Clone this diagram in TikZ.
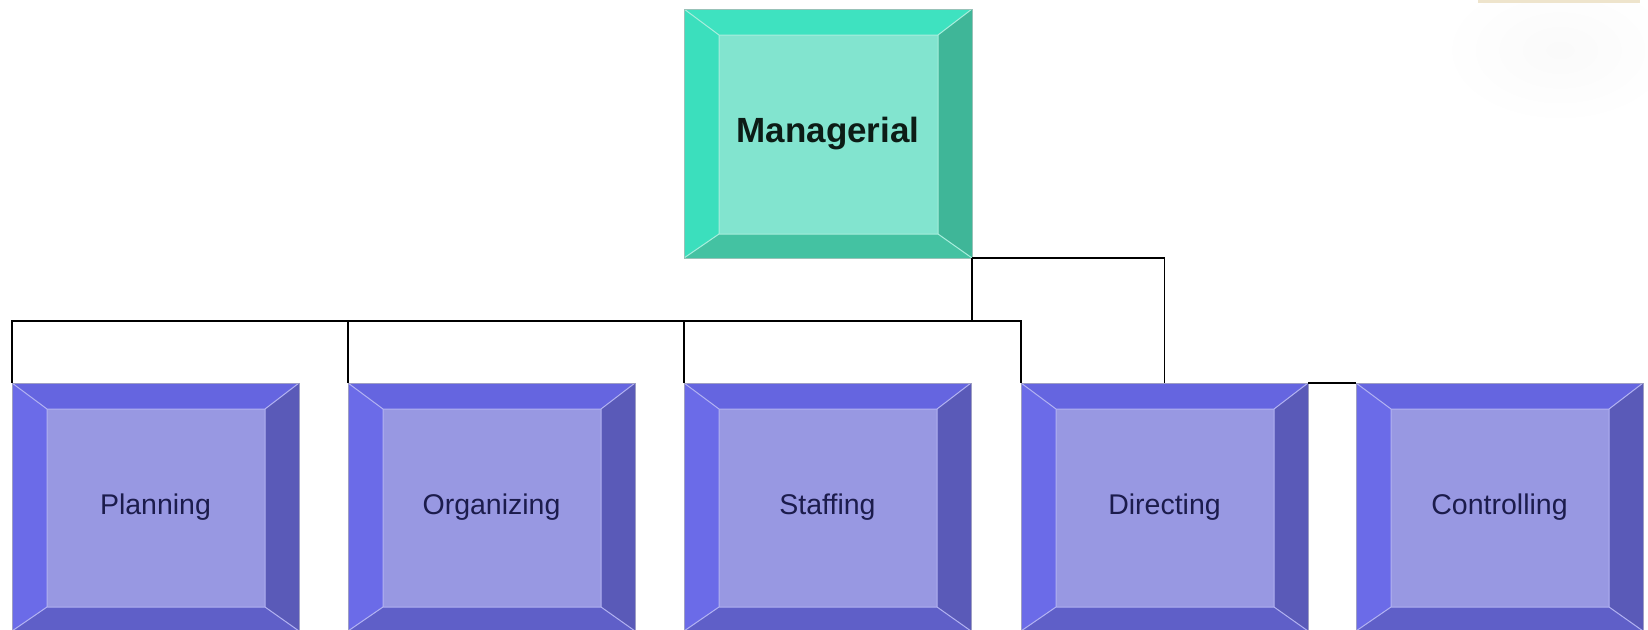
\documentclass[tikz,border=0pt]{standalone}
\usepackage{fontspec}
\setmainfont{Liberation Sans}
\usetikzlibrary{calc}

% palettes: T top, L left, R right, B bottom bevel, I inner face, E edge lines
\definecolor{mgrT}{HTML}{3EE2C0}
\definecolor{mgrL}{HTML}{3BDFBD}
\definecolor{mgrR}{HTML}{3FB698}
\definecolor{mgrB}{HTML}{44C2A2}
\definecolor{mgrI}{HTML}{82E4CF}
\definecolor{mgrE}{HTML}{A8EEDD}
\definecolor{funT}{HTML}{6565E0}
\definecolor{funL}{HTML}{6B6BE8}
\definecolor{funR}{HTML}{5A5AB8}
\definecolor{funB}{HTML}{5F5FC8}
\definecolor{funI}{HTML}{9898E2}
\definecolor{funE}{HTML}{B2B2F2}
\definecolor{navytext}{HTML}{1C1C4C}
\definecolor{darktext}{HTML}{0C1C16}
\definecolor{sand}{HTML}{EEE4CC}

\tikzset{
  bevelbox/.style={
    rectangle, draw=#1E!60!gray, line width=0.8pt, inner sep=0pt, outer sep=0pt,
    path picture={
      \coordinate (pa) at (path picture bounding box.north west);
      \coordinate (pc) at (path picture bounding box.south east);
      \coordinate (pb) at (pc |- pa);
      \coordinate (pd) at (pa |- pc);
      \coordinate (qa) at ($(pa)+(35,26)$);
      \coordinate (qb) at ($(pb)+(-34,26)$);
      \coordinate (qc) at ($(pc)+(-34,-24)$);
      \coordinate (qd) at ($(pd)+(35,-24)$);
      \fill[#1T] (pa) -- (pb) -- (qb) -- (qa) -- cycle;
      \fill[#1R] (pb) -- (pc) -- (qc) -- (qb) -- cycle;
      \fill[#1B] (pc) -- (pd) -- (qd) -- (qc) -- cycle;
      \fill[#1L] (pd) -- (pa) -- (qa) -- (qd) -- cycle;
      \fill[#1I] (qa) -- (qb) -- (qc) -- (qd) -- cycle;
      \draw[#1E, line width=1pt] (qa) -- (qb) -- (qc) -- (qd) -- cycle
        (pa) -- (qa) (pb) -- (qb) (pc) -- (qc) (pd) -- (qd);
    }
  },
  headbox/.style={bevelbox=mgr, minimum width=288pt, minimum height=249pt,
    text=darktext, font=\bfseries\fontsize{35}{40}\selectfont},
  taskbox/.style={bevelbox=fun, minimum width=287pt, minimum height=248pt,
    text=navytext, font=\fontsize{28.5}{32}\selectfont},
  link/.style={draw=black, line width=1.6pt},
}

\begin{document}
\begin{tikzpicture}[x=1pt, y=-1pt]
  \useasboundingbox (0,0) rectangle (1648,629);
  \clip (0,0) rectangle (1648,629);

  % faint backdrop in the upper right corner
  \shade[inner color=black!2, outer color=white] (1560,50) ellipse (120 and 75);
  \fill[sand] (1478,0) rectangle (1640,3);

  % boxes
  \node[headbox] (mgr) at (828,133.5) {Managerial};
  \node[taskbox] (plan) at (155.5,507) {Planning};
  \node[taskbox] (org)  at (491.5,507) {Organizing};
  \node[taskbox] (stf)  at (827.5,507) {Staffing};
  \node[taskbox] (dir)  at (1164.5,507) {Directing};
  \node[taskbox] (ctl)  at (1499.5,507) {Controlling};

  % connectors
  \coordinate (bus) at (0,321);
  \draw[link] (mgr.south east) -- (mgr.south east |- bus);
  \draw[link] (plan.north west) |- (dir.north west |- bus) -- (dir.north west);
  \draw[link] (org.north west) -- (org.north west |- bus);
  \draw[link] (stf.north west) -- (stf.north west |- bus);
  \draw[link] (mgr.south east) -| (dir.north);
  \draw[link] (dir.north east) -- (ctl.north west);
\end{tikzpicture}
\end{document}
